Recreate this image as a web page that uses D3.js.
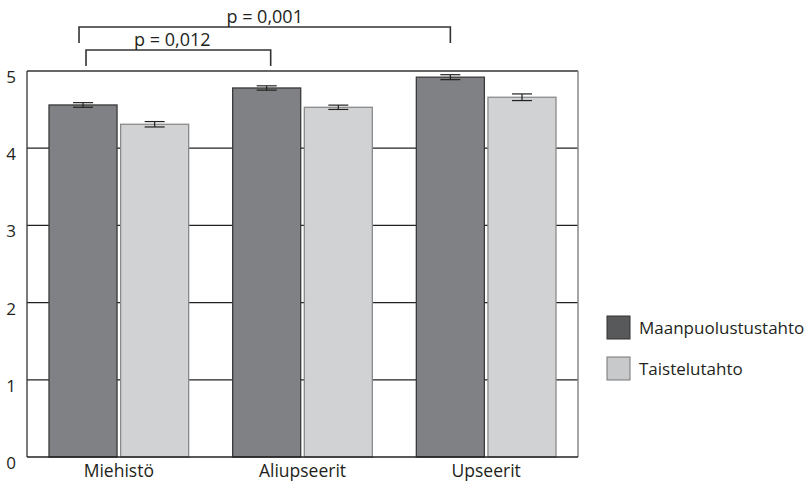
<!DOCTYPE html>
<html><head><meta charset="utf-8">
<script src="https://cdn.jsdelivr.net/npm/d3@7"></script>
<style>body{margin:0;background:#fff}svg{display:block}</style>
</head><body>
<svg id="c" width="807" height="482"></svg>
<script>
const categories = ["Miehistö", "Aliupseerit", "Upseerit"];
const seriesNames = ["Maanpuolustustahto", "Taistelutahto"];
const maanpuolustus = [4.56, 4.78, 4.92];
const taistelu = [4.31, 4.53, 4.66];
const errMaan = [0.03, 0.028, 0.032];
const errTaist = [0.035, 0.028, 0.043];
const yTicks = [0, 1, 2, 3, 4, 5];
const brackets = [
  {from: 0, to: 2, label: "p = 0,001"},
  {from: 0, to: 1, label: "p = 0,012"}
];

const font = "'Open Sans', 'Noto Sans', sans-serif";
const svg = d3.select("#c");
const L = 27, R = 578, T = 71, B = 457;
const x = d3.scaleBand().domain(categories).range([L, R]).paddingInner(0).paddingOuter(0);
const y = d3.scaleLinear().domain([0, 5]).range([B, T]);
const inner = d3.scaleBand().domain(seriesNames).range([22, x.bandwidth() - 22]).paddingInner(0.05);

const barFill = ["#808184", "#d1d2d4"];
const barStroke = ["#3a3a3a", "#8a8a8a"];
const legFill = ["#58595b", "#c8c9cb"];

// gridlines
svg.append("g").selectAll("line").data([1,2,3,4]).join("line")
  .attr("x1", L).attr("x2", R).attr("y1", d => y(d)).attr("y2", d => y(d))
  .attr("stroke", "#222").attr("stroke-width", 1.3);
// frame
svg.append("line").attr("x1", L).attr("x2", R).attr("y1", y(5)).attr("y2", y(5)).attr("stroke", "#333").attr("stroke-width", 1.3);
svg.append("line").attr("x1", R).attr("x2", R).attr("y1", y(5)).attr("y2", y(0)).attr("stroke", "#888").attr("stroke-width", 1.5);
svg.append("line").attr("x1", L).attr("x2", L).attr("y1", y(5)).attr("y2", y(0)).attr("stroke", "#333").attr("stroke-width", 1.3);

const data = categories.map((c, i) => ({c, vals: [
  {s: 0, v: maanpuolustus[i], e: errMaan[i]},
  {s: 1, v: taistelu[i], e: errTaist[i]}
]}));

const g = svg.append("g").selectAll("g").data(data).join("g")
  .attr("transform", d => `translate(${x(d.c)},0)`);
g.selectAll("rect").data(d => d.vals).join("rect")
  .attr("x", d => inner(seriesNames[d.s])).attr("width", inner.bandwidth())
  .attr("y", d => y(d.v)).attr("height", d => y(0) - y(d.v))
  .attr("fill", d => barFill[d.s]).attr("stroke", d => barStroke[d.s]).attr("stroke-width", 1.3);
// error bars
const eb = g.selectAll("g.eb").data(d => d.vals).join("g").attr("class", "eb");
eb.append("line").attr("x1", d => inner(seriesNames[d.s]) + inner.bandwidth()/2).attr("x2", d => inner(seriesNames[d.s]) + inner.bandwidth()/2)
  .attr("y1", d => y(d.v + d.e)).attr("y2", d => y(d.v - d.e)).attr("stroke", "#222").attr("stroke-width", 1.2);
[1, -1].forEach(sg => {
  eb.append("line").attr("x1", d => inner(seriesNames[d.s]) + inner.bandwidth()/2 - 10).attr("x2", d => inner(seriesNames[d.s]) + inner.bandwidth()/2 + 10)
    .attr("y1", d => y(d.v + sg*d.e)).attr("y2", d => y(d.v + sg*d.e)).attr("stroke", "#222").attr("stroke-width", 1.2);
});

// bottom axis line
svg.append("line").attr("x1", L).attr("x2", R).attr("y1", y(0)).attr("y2", y(0)).attr("stroke", "#222").attr("stroke-width", 1.3);

// y tick labels
svg.append("g").selectAll("text").data(yTicks).join("text")
  .attr("x", 11).attr("y", d => y(d) + 6).attr("dy", "0.35em").attr("text-anchor", "middle")
  .attr("font-family", font).attr("font-size", 17).attr("fill", "#231f20").text(d => d);
// x labels
svg.append("g").selectAll("text").data(categories).join("text")
  .attr("x", d => x(d) + x.bandwidth()/2).attr("y", 476.5).attr("text-anchor", "middle")
  .attr("font-family", font).attr("font-size", 17.5).attr("fill", "#231f20").text(d => d);

// brackets
const bx = (i) => x(categories[i]) + inner(seriesNames[0]) + inner.bandwidth()/2;
const bLev = [{top: 27, bot: 43, dl: -4, dr: 0, tdx: 0}, {top: 50, bot: 66, dl: 3, dr: 4, tdx: -6}];
brackets.forEach((b, k) => {
  const lv = bLev[k];
  const x1 = bx(b.from) + lv.dl, x2 = bx(b.to) + lv.dr;
  svg.append("path").attr("d", `M${x1},${lv.bot}V${lv.top}H${x2}V${lv.bot}`)
    .attr("fill", "none").attr("stroke", "#333").attr("stroke-width", 1.6);
  svg.append("text").attr("x", (x1 + x2)/2 + lv.tdx).attr("y", lv.top - 4).attr("text-anchor", "middle")
    .attr("font-family", font).attr("font-size", 18).attr("fill", "#231f20").text(b.label);
});

// legend
const lg = svg.append("g").selectAll("g").data(seriesNames).join("g")
  .attr("transform", (d, i) => `translate(607,${316 + i*41})`);
lg.append("rect").attr("width", 23).attr("height", 23)
  .attr("fill", (d, i) => legFill[i]).attr("stroke", (d, i) => i === 0 ? "#333" : "#777").attr("stroke-width", 1);
lg.append("text").attr("x", 32).attr("y", 12).attr("dy", "0.35em")
  .attr("font-family", font).attr("font-size", 17).attr("fill", "#231f20").text(d => d);
</script>
</body></html>
